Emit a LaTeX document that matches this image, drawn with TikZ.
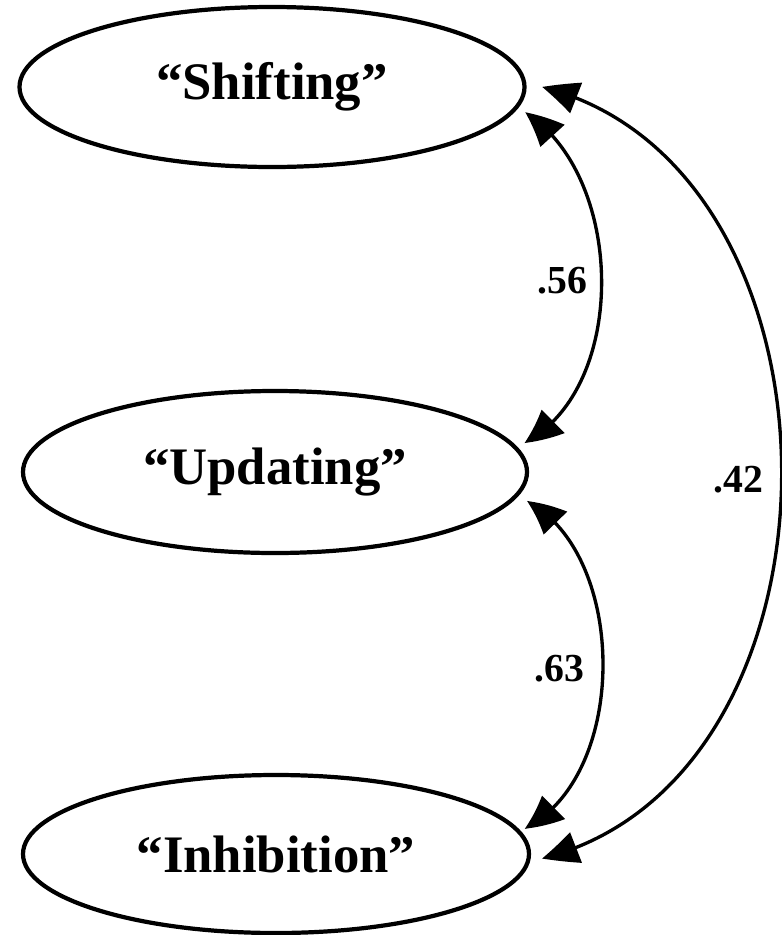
\documentclass[tikz,border=0pt]{standalone}
\usepackage{fontspec}
\setmainfont{Liberation Serif}
\usetikzlibrary{arrows.meta,bending,shapes.geometric}

\tikzset{
  factor/.style={draw, line width=1.2pt, ellipse, inner sep=0pt,
    font=\bfseries\fontsize{15}{18}\selectfont},
  corr/.style={line width=0.95pt,
    {Triangle[length=0.36cm,width=0.32cm,bend]}-{Triangle[length=0.36cm,width=0.32cm,bend]}},
  coef/.style={font=\bfseries\fontsize{11.3}{13}\selectfont, inner sep=0pt}
}

\begin{document}
\begin{tikzpicture}[x=1cm,y=1cm]
\useasboundingbox (0,0) rectangle (7.81,-9.35);

% latent factors
\node[factor, minimum width=5.05cm, minimum height=1.60cm] (shift) at (2.72,-0.87) {“Shifting”};
\node[factor, minimum width=5.04cm, minimum height=1.62cm] (upd)   at (2.75,-4.72) {“Updating”};
\node[factor, minimum width=5.06cm, minimum height=1.58cm] (inh)   at (2.76,-8.54) {“Inhibition”};

% correlation Shifting -- Updating
\draw[corr] ([xshift=0.11cm]shift.-6)
  .. controls +(1.00,-0.63) and +(1.05,0.55) ..
  node[coef, pos=0.5, left=0.13cm] {.56}
  ([xshift=0.115cm]upd.7.9);

% correlation Updating -- Inhibition
\draw[corr] ([xshift=0.14cm]upd.-7.3)
  .. controls +(1.01,-0.53) and +(1.05,0.53) ..
  node[coef, pos=0.5, left=0.17cm, yshift=-0.04cm] {.63}
  ([xshift=0.064cm]inh.6.75);

% correlation Shifting -- Inhibition
\draw[corr] ([xshift=0.155cm]shift.0)
  .. controls +(3.19,-0.80) and +(3.20,0.80) ..
  node[coef, pos=0.5, left=0.17cm, yshift=-0.07cm] {.42}
  ([xshift=0.113cm]inh.-1.8);
\end{tikzpicture}
\end{document}
